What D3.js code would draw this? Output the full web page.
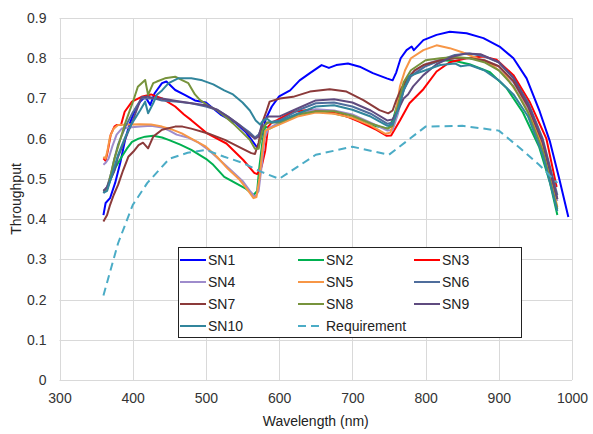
<!DOCTYPE html>
<html><head><meta charset="utf-8">
<script src="https://cdn.jsdelivr.net/npm/d3@7"></script>
<style>
body{margin:0;background:#fff;}
text{font-family:"Liberation Sans",Arial,sans-serif;}
</style></head>
<body><svg id="c" width="593" height="434"></svg>
<script>
const xTicks=[300,400,500,600,700,800,900,1000];
const yTicks=[0,0.1,0.2,0.3,0.4,0.5,0.6,0.7,0.8,0.9];
const seriesNames=["SN1","SN2","SN3","SN4","SN5","SN6","SN7","SN8","SN9","SN10","Requirement"];
const seriesColors=["#0000ff","#00b050","#ff0000","#9e8ccc","#f79646","#4f6d9c","#8b3a3a","#77933c","#5f4b7f","#31859c","#4bacc6"];

const SN1=[[360,0.41],[363,0.44],[369,0.452],[376,0.49],[383,0.54],[390,0.6],[396,0.638],[403,0.671],[410,0.692],[417,0.704],[424,0.684],[430,0.713],[440,0.738],[446,0.742],[458,0.721],[471,0.709],[485,0.695],[500,0.69],[520,0.66],[540,0.64],[555,0.615],[565,0.59],[570,0.578],[575,0.60],[582,0.65],[590,0.68],[600,0.705],[615,0.72],[628,0.745],[642,0.763],[658,0.783],[668,0.776],[678,0.783],[694,0.787],[710,0.779],[728,0.763],[747,0.75],[755,0.745],[760,0.765],[766,0.80],[774,0.82],[781,0.829],[784,0.82],[797,0.845],[815,0.858],[833,0.866],[856,0.862],[879,0.85],[901,0.829],[920,0.80],[938,0.75],[956,0.667],[970,0.592],[983,0.497],[995,0.405]];
const SN2=[[360,0.47],[365,0.475],[370,0.50],[377,0.53],[385,0.555],[392,0.575],[399,0.592],[408,0.60],[417,0.605],[428,0.607],[440,0.603],[449,0.597],[465,0.585],[480,0.572],[500,0.55],[510,0.535],[525,0.505],[540,0.49],[555,0.475],[565,0.46],[570,0.47],[573,0.53],[577,0.59],[581,0.63],[587,0.625],[600,0.638],[628,0.663],[651,0.671],[674,0.663],[701,0.651],[724,0.634],[749,0.625],[756,0.65],[765,0.71],[778,0.755],[797,0.78],[820,0.795],[840,0.793],[860,0.785],[888,0.765],[911,0.725],[933,0.665],[955,0.58],[970,0.49],[980,0.41]];
const SN3=[[360,0.551],[363,0.545],[366,0.57],[370,0.61],[375,0.63],[378,0.634],[384,0.634],[389,0.667],[399,0.692],[412,0.704],[425,0.71],[440,0.70],[458,0.68],[470,0.66],[480,0.646],[501,0.614],[528,0.588],[551,0.547],[566,0.515],[570,0.512],[576,0.53],[581,0.57],[585,0.63],[590,0.64],[597,0.646],[619,0.667],[642,0.672],[665,0.668],[687,0.659],[710,0.642],[733,0.622],[747,0.607],[753,0.608],[765,0.645],[778,0.688],[797,0.723],[815,0.767],[833,0.79],[856,0.80],[879,0.804],[897,0.796],[920,0.758],[942,0.692],[965,0.60],[979,0.48]];
const SN4=[[360,0.535],[363,0.54],[367,0.55],[372,0.58],[378,0.61],[385,0.625],[395,0.628],[410,0.63],[425,0.632],[440,0.628],[450,0.62],[460,0.61],[475,0.603],[490,0.59],[505,0.57],[520,0.545],[535,0.52],[550,0.495],[560,0.47],[567,0.455],[572,0.47],[576,0.53],[580,0.60],[585,0.625],[600,0.64],[625,0.66],[650,0.673],[675,0.67],[700,0.66],[725,0.64],[748,0.62],[755,0.622],[762,0.66],[770,0.72],[780,0.76],[800,0.785],[820,0.797],[840,0.80],[860,0.80],[880,0.795],[900,0.78],[920,0.74],[940,0.675],[960,0.58],[980,0.445]];
const SN5=[[360,0.555],[363,0.55],[366,0.575],[369,0.605],[374,0.625],[380,0.634],[395,0.635],[410,0.636],[425,0.635],[440,0.63],[455,0.622],[467,0.613],[480,0.60],[500,0.58],[515,0.555],[530,0.525],[545,0.5],[558,0.47],[565,0.452],[569,0.455],[573,0.5],[577,0.57],[581,0.62],[587,0.625],[600,0.635],[625,0.655],[650,0.665],[675,0.662],[700,0.652],[725,0.633],[745,0.612],[752,0.615],[758,0.65],[765,0.73],[772,0.77],[780,0.80],[797,0.82],[815,0.832],[833,0.825],[850,0.815],[870,0.80],[890,0.785],[910,0.755],[930,0.70],[950,0.63],[965,0.55],[980,0.43]];
const SN6=[[360,0.465],[365,0.48],[370,0.51],[375,0.55],[380,0.585],[390,0.63],[400,0.665],[412,0.70],[420,0.70],[430,0.70],[440,0.695],[462,0.692],[480,0.688],[500,0.68],[515,0.672],[530,0.655],[545,0.635],[560,0.615],[567,0.603],[572,0.61],[577,0.63],[585,0.64],[600,0.645],[625,0.67],[650,0.688],[675,0.69],[700,0.68],[725,0.662],[748,0.637],[755,0.64],[762,0.67],[770,0.72],[780,0.755],[800,0.78],[820,0.795],[840,0.808],[860,0.812],[880,0.805],[900,0.79],[920,0.75],[940,0.69],[960,0.60],[980,0.46]];
const SN7=[[360,0.394],[365,0.41],[369,0.435],[374,0.46],[380,0.485],[387,0.522],[394,0.555],[401,0.568],[408,0.584],[414,0.59],[421,0.576],[428,0.605],[440,0.622],[458,0.63],[468,0.63],[480,0.625],[503,0.613],[526,0.597],[549,0.576],[562,0.564],[567,0.562],[572,0.59],[577,0.64],[583,0.67],[587,0.692],[601,0.70],[619,0.704],[642,0.717],[669,0.723],[692,0.717],[715,0.696],[737,0.671],[749,0.663],[755,0.67],[760,0.696],[767,0.725],[774,0.746],[785,0.77],[797,0.783],[820,0.795],[840,0.80],[860,0.80],[880,0.795],[900,0.78],[920,0.743],[940,0.68],[960,0.59],[980,0.45]];
const SN8=[[360,0.47],[365,0.475],[370,0.51],[375,0.55],[380,0.58],[390,0.64],[400,0.69],[407,0.729],[417,0.746],[421,0.709],[428,0.738],[433,0.742],[444,0.75],[458,0.754],[468,0.745],[476,0.738],[485,0.71],[492,0.696],[505,0.68],[515,0.671],[526,0.655],[537,0.638],[550,0.615],[560,0.597],[567,0.575],[572,0.575],[577,0.62],[583,0.64],[600,0.64],[625,0.66],[650,0.668],[675,0.668],[700,0.657],[725,0.638],[748,0.625],[755,0.632],[762,0.68],[770,0.74],[780,0.77],[800,0.795],[820,0.80],[840,0.803],[860,0.80],[880,0.79],[900,0.77],[920,0.73],[940,0.665],[960,0.57],[980,0.425]];
const SN9=[[360,0.47],[365,0.48],[370,0.50],[375,0.52],[380,0.555],[390,0.60],[400,0.645],[412,0.703],[420,0.705],[430,0.70],[440,0.70],[462,0.693],[480,0.688],[500,0.683],[515,0.672],[530,0.655],[545,0.635],[560,0.61],[567,0.60],[572,0.605],[577,0.64],[585,0.655],[600,0.655],[625,0.675],[650,0.695],[675,0.698],[700,0.69],[725,0.67],[748,0.645],[755,0.648],[762,0.67],[770,0.70],[776,0.71],[783,0.73],[797,0.758],[815,0.785],[835,0.803],[855,0.812],[875,0.81],[900,0.79],[920,0.752],[940,0.685],[960,0.595],[980,0.45]];
const SN10=[[360,0.465],[365,0.47],[370,0.50],[375,0.53],[380,0.56],[390,0.605],[399,0.638],[410,0.67],[417,0.692],[421,0.663],[428,0.688],[433,0.709],[440,0.72],[449,0.738],[462,0.75],[480,0.75],[495,0.745],[510,0.735],[525,0.72],[537,0.71],[550,0.69],[560,0.67],[568,0.645],[574,0.635],[578,0.645],[583,0.65],[590,0.64],[600,0.643],[625,0.662],[650,0.68],[675,0.683],[700,0.672],[725,0.655],[748,0.632],[755,0.635],[762,0.67],[770,0.72],[778,0.756],[800,0.77],[820,0.783],[840,0.787],[848,0.78],[860,0.783],[880,0.77],[900,0.745],[920,0.71],[940,0.655],[960,0.56],[980,0.42]];
const Requirement=[[360,0.21],[380,0.34],[400,0.435],[420,0.49],[450,0.55],[475,0.565],[500,0.572],[525,0.555],[550,0.54],[575,0.518],[600,0.50],[625,0.53],[650,0.56],[700,0.58],[750,0.56],[800,0.63],[850,0.632],[900,0.62],[930,0.575],[955,0.535],[980,0.49]];

const seriesData=[SN1,SN2,SN3,SN4,SN5,SN6,SN7,SN8,SN9,SN10,Requirement];

const svg=d3.select("#c");
const L=59.5,R=572,T=18,B=380;
const x=d3.scaleLinear().domain([300,1000]).range([L,R]);
const y=d3.scaleLinear().domain([0,0.9]).range([B,T]);

// gridlines
const g=svg.append("g");
g.selectAll(".gx").data(xTicks).enter().append("line")
 .attr("x1",d=>Math.round(x(d))+0.5).attr("x2",d=>Math.round(x(d))+0.5).attr("y1",T).attr("y2",B)
 .attr("stroke","#d9d9d9").attr("stroke-width",1);
g.selectAll(".gy").data(yTicks).enter().append("line")
 .attr("y1",d=>Math.round(y(d))+0.5).attr("y2",d=>Math.round(y(d))+0.5).attr("x1",L).attr("x2",R)
 .attr("stroke","#d9d9d9").attr("stroke-width",1);

// axes labels
const xa=d3.axisBottom(x).tickValues(xTicks).tickSize(0).tickPadding(13).tickFormat(d3.format("d"));
const ya=d3.axisLeft(y).tickValues(yTicks).tickSize(0).tickPadding(13).tickFormat(d=>d===0?"0":d3.format(".1f")(d));
const gx=svg.append("g").attr("transform",`translate(0,${B})`).call(xa);
const gy=svg.append("g").attr("transform",`translate(${L},0)`).call(ya);
[gx,gy].forEach(a=>{a.select(".domain").remove();a.selectAll("text").attr("font-size",14).attr("fill","#333").attr("font-family","Liberation Sans, Arial, sans-serif");});

svg.append("text").attr("x",(L+R)/2).attr("y",426).attr("text-anchor","middle").attr("font-size",14).attr("fill","#222").text("Wavelength (nm)");
svg.append("text").attr("transform",`translate(21,${(T+B)/2}) rotate(-90)`).attr("text-anchor","middle").attr("font-size",14).attr("fill","#222").text("Throughput");

// lines
const line=d3.line().x(d=>x(d[0])).y(d=>y(d[1]));
seriesData.forEach((s,i)=>{
  const p=svg.append("path").attr("d",line(s)).attr("fill","none")
   .attr("stroke",seriesColors[i]).attr("stroke-width",2).attr("stroke-linejoin","round");
  if(seriesNames[i]==="Requirement") p.attr("stroke-dasharray","8,5");
});

// legend
const lg=svg.append("g");
lg.append("rect").attr("x",178.5).attr("y",247.5).attr("width",343).attr("height",90)
 .attr("fill","#fff").attr("stroke","#222").attr("stroke-width",1);
const colX=[180,298,414], rowY=[260,282,304,326];
seriesNames.forEach((n,i)=>{
  const cx=colX[i%3], cy=rowY[Math.floor(i/3)];
  const l=lg.append("line").attr("x1",cx).attr("x2",cx+26).attr("y1",cy).attr("y2",cy)
    .attr("stroke",seriesColors[i]).attr("stroke-width",2);
  if(n==="Requirement") l.attr("stroke-dasharray","8,5");
  lg.append("text").attr("x",cx+28).attr("y",cy+5).attr("font-size",14).attr("fill","#222").text(n);
});
</script></body></html>
